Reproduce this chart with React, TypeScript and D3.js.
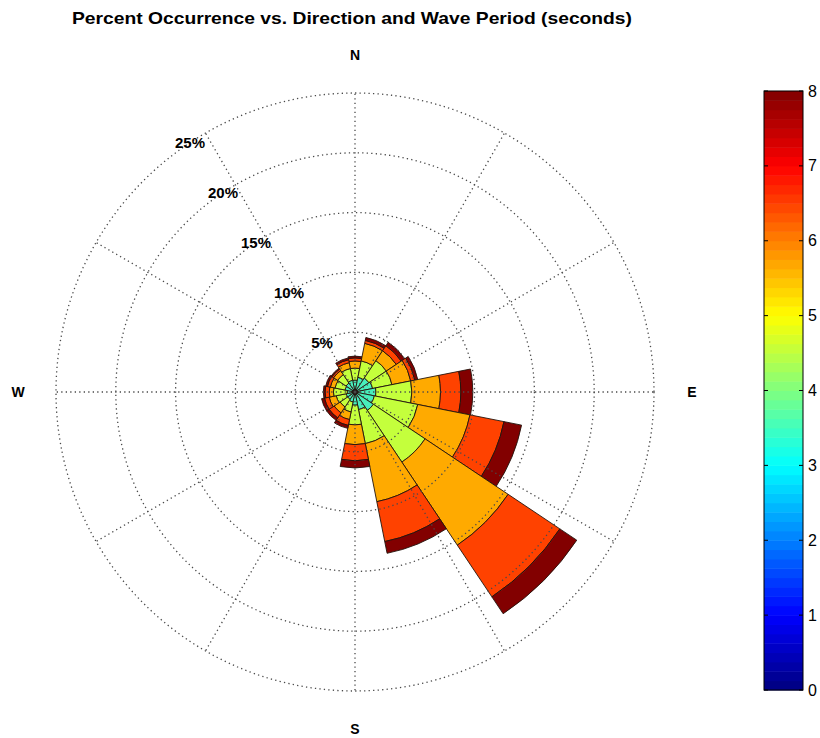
import React from "react";
import * as d3 from "d3";

// ---- data (percent occurrence per direction and wave-period band) ----
const directions = ["N", "NNE", "NE", "ENE", "E", "ESE", "SE", "SSE", "S", "SSW", "SW", "WSW", "W", "WNW", "NW", "NNW"];
const bearings = [0, 22.5, 45, 67.5, 90, 112.5, 135, 157.5, 180, 202.5, 225, 247.5, 270, 292.5, 315, 337.5];
const period2to3 = [0.25, 0.25, 0.25, 0.25, 0.25, 0.25, 0.25, 0.25, 0.25, 0.25, 0.25, 0.25, 0.25, 0.25, 0.25, 0.25];
const period3to4 = [0.75, 1.0, 1.15, 1.25, 1.5, 1.4, 1.6, 1.25, 0.85, 0.6, 0.5, 0.5, 0.4, 0.6, 0.65, 0.75];
const period4to5 = [1.0, 1.4, 1.75, 1.65, 3.0, 3.7, 5.2, 2.9, 1.65, 0.85, 0.75, 0.85, 1.15, 0.85, 0.85, 1.0];
const period5to6 = [0.6, 1.5, 1.0, 1.6, 2.4, 4.45, 8.35, 4.95, 1.65, 0.65, 0.6, 0.6, 0.35, 0.4, 0.4, 0.5];
const period6to7 = [0.25, 0.25, 0.5, 0.35, 1.7, 2.9, 5.2, 3.4, 1.35, 0.5, 0.5, 0.4, 0.35, 0.25, 0.15, 0.25];
const period7to8 = [0.15, 0.25, 0.35, 0.25, 1.0, 1.5, 1.7, 1.0, 0.6, 0.25, 0.25, 0.25, 0.15, 0.15, 0.1, 0.15];
const bandSeries = [period2to3, period3to4, period4to5, period5to6, period6to7, period7to8];
const bandColors = ["#101040", "#48EEBC", "#C4FF3C", "#FFAA00", "#FF4200", "#820000"];
const ringValues = [5, 10, 15, 20, 25];
const ringLabels = ["5%", "10%", "15%", "20%", "25%"];
const spokeAngles = [0, 30, 60, 90, 120, 150, 180, 210, 240, 270, 300, 330];
const compassLabels = [
  { text: "N", angle: 0 },
  { text: "E", angle: 90 },
  { text: "S", angle: 180 },
  { text: "W", angle: 270 },
];
const colorbarTicks = [0, 1, 2, 3, 4, 5, 6, 7, 8];
const title = "Percent Occurrence vs. Direction and Wave Period (seconds)";

function jet(t: number): string {
  const c = (v: number) => Math.max(0, Math.min(1, v));
  const r = c(1.5 - Math.abs(4 * t - 3));
  const g = c(1.5 - Math.abs(4 * t - 2));
  const b = c(1.5 - Math.abs(4 * t - 1));
  return d3.rgb(r * 255, g * 255, b * 255).formatHex();
}

export default function App() {
  const W = 820, H = 738;
  const cx = 355, cy = 392, R = 299;
  const rScale = d3.scaleLinear().domain([0, 25]).range([0, R]);
  const rad = (deg: number) => (deg * Math.PI) / 180;
  const halfWidth = 11.25;
  const arc = d3.arc<any>();
  const font = "'Liberation Sans', Arial, Helvetica, sans-serif";

  const wedges: { d: string; fill: string; key: string }[] = [];
  bearings.forEach((b, i) => {
    let cum = 0;
    bandSeries.forEach((series, k) => {
      const v = series[i];
      const d = arc({
        innerRadius: rScale(cum),
        outerRadius: rScale(cum + v),
        startAngle: rad(b - halfWidth),
        endAngle: rad(b + halfWidth),
      }) as string;
      wedges.push({ d, fill: bandColors[k], key: `${directions[i]}-${k}` });
      cum += v;
    });
  });

  // colorbar
  const cbX = 764, cbW = 39, cbTop = 91, cbBot = 690;
  const cScale = d3.scaleLinear().domain([0, 8]).range([cbBot, cbTop]);
  const nColors = 64;
  const cells = d3.range(nColors).map((i) => ({
    y0: cScale(((i + 1) * 8) / nColors),
    y1: cScale((i * 8) / nColors),
    fill: jet((i + 0.5) / nColors),
  }));

  const gridStyle = { stroke: "#4a4a4a", strokeWidth: 1.3, strokeDasharray: "1.3 3.2", fill: "none" } as const;
  const labelAngle = -33.5;

  return (
    <svg width={W} height={H} style={{ position: "absolute", left: 0, top: 0, background: "#fff" }} fontFamily={font}>
      <rect x={0} y={0} width={W} height={H} fill="#fff" />
      <text
        x={352}
        y={24}
        textAnchor="middle"
        fontSize={17}
        fontWeight="bold"
        fill="#000"
        textLength={560}
        lengthAdjust="spacingAndGlyphs"
      >
        {title}
      </text>
      <g transform={`translate(${cx},${cy})`}>
        {wedges.map((w) => (
          <path key={w.key} d={w.d} fill={w.fill} stroke="#22140c" strokeWidth={0.9} />
        ))}
        {ringValues.map((v) => (
          <circle key={v} r={rScale(v)} {...gridStyle} />
        ))}
        {spokeAngles.map((a) => (
          <line
            key={a}
            x1={0}
            y1={0}
            x2={R * Math.sin(rad(a))}
            y2={-R * Math.cos(rad(a))}
            {...gridStyle}
          />
        ))}
        {ringValues.map((v, i) => (
          <text
            key={v}
            x={rScale(v) * Math.sin(rad(labelAngle))}
            y={-rScale(v) * Math.cos(rad(labelAngle))}
            textAnchor="middle"
            dominantBaseline="central"
            fontSize={15}
            fontWeight="bold"
            fill="#000"
          >
            {ringLabels[i]}
          </text>
        ))}
        {compassLabels.map((c) => (
          <text
            key={c.text}
            x={337 * Math.sin(rad(c.angle))}
            y={-337 * Math.cos(rad(c.angle))}
            textAnchor="middle"
            dominantBaseline="central"
            fontSize={14}
            fontWeight="bold"
            fill="#000"
          >
            {c.text}
          </text>
        ))}
      </g>
      <g>
        {cells.map((c, i) => (
          <rect key={i} x={cbX} y={c.y0} width={cbW} height={c.y1 - c.y0 + 0.5} fill={c.fill} />
        ))}
        <rect x={cbX} y={cbTop} width={cbW} height={cbBot - cbTop} fill="none" stroke="#000" strokeWidth={1} />
        {colorbarTicks.map((t) => (
          <g key={t}>
            <line x1={cbX} x2={cbX + 4} y1={cScale(t)} y2={cScale(t)} stroke="#000" />
            <line x1={cbX + cbW - 4} x2={cbX + cbW} y1={cScale(t)} y2={cScale(t)} stroke="#000" />
            <text x={cbX + cbW + 5} y={cScale(t)} dominantBaseline="central" fontSize={16} fill="#000">
              {t}
            </text>
          </g>
        ))}
      </g>
    </svg>
  );
}
